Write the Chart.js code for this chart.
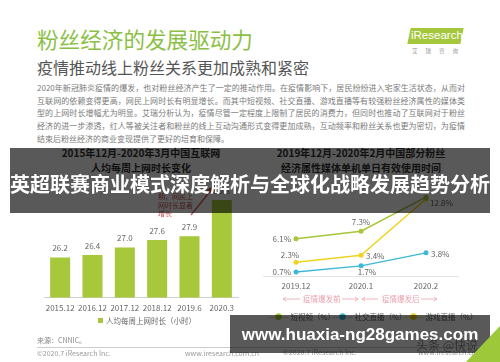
<!DOCTYPE html>
<html><head><meta charset="utf-8">
<script src="https://cdn.jsdelivr.net/npm/chart.js@4/dist/chart.umd.min.js"></script>
<style>
html,body{margin:0;padding:0;background:#fff;width:500px;height:362px;overflow:hidden;}
body{position:relative;font-family:'Noto Sans CJK SC','Noto Sans',sans-serif;}
.t{position:absolute;line-height:1;white-space:nowrap;}
canvas{position:absolute;}
.para{position:absolute;left:37px;width:428px;font-size:8px;line-height:1;color:#7a7a7a;text-align:justify;text-align-last:justify;white-space:nowrap;}
.ctitle{position:absolute;width:220px;text-align:center;font-size:10px;font-weight:bold;color:#333;line-height:1;}
</style></head>
<body>
<div class="t" style="left:37px;top:28px;font-size:21.6px;color:#8cbf45;">粉丝经济的发展驱动力</div>
<div class="t" style="left:37px;top:59px;font-size:16px;color:#555;">疫情推动线上粉丝关系更加成熟和紧密</div>
<div style="position:absolute;left:409px;top:28px;width:53px;height:16px;background:#a5c73c;transform:skewX(-12deg);"></div>
<div class="t" style="left:411px;top:30px;font-size:11.5px;color:#fff;font-family:'Liberation Sans',sans-serif;">iResearch</div>
<div class="t" style="left:412px;top:49px;font-size:5.5px;color:#999;letter-spacing:8px;">艾瑞咨询</div>

<div class="para" style="top:84px;">2020年新冠肺炎疫情的爆发，也对粉丝经济产生了一定的推动作用。在疫情影响下，居民纷纷进入宅家生活状态，从而对</div>
<div class="para" style="top:97px;">互联网的依赖变得更高，网民上网时长有明显增长。而其中短视频、社交直播、游戏直播等有较强粉丝经济属性的媒体类</div>
<div class="para" style="top:109px;">型的上网时长增幅尤为明显。艾瑞分析认为，疫情尽管一定程度上限制了居民的消费力，但同时也推动了互联网对于粉丝</div>
<div class="para" style="top:122px;">经济的进一步渗透，红人等被关注者和粉丝的线上互动沟通形式变得更加成熟，互动频率和粉丝关系也更为密切，为疫情</div>
<div class="para" style="top:135px;text-align-last:left;">结束后粉丝经济的商业变现提供了更好的培育和保障。</div>

<div class="ctitle" style="left:31px;top:148px;">2015年12月-2020年3月中国互联网</div>
<div class="ctitle" style="left:31px;top:163px;">人均每周上网时长变化</div>
<div class="ctitle" style="left:251px;top:148px;">2019年12月-2020年2月中国部分粉丝</div>
<div class="ctitle" style="left:251px;top:163px;">经济属性媒体单机单日有效使用时间</div>

<canvas id="bar" width="250" height="170" style="left:0;top:150px;"></canvas>
<canvas id="line" width="250" height="150" style="left:250px;top:150px;"></canvas>

<div class="t" style="left:158px;top:193px;font-size:7px;color:#c85a5a;">期，网民上</div>
<div class="t" style="left:158px;top:201.5px;font-size:7px;color:#c85a5a;">网时长显著</div>
<div class="t" style="left:158px;top:210px;font-size:7px;color:#c85a5a;">增长</div>
<svg style="position:absolute;left:0;top:0;" width="500" height="362">
 <line x1="191" y1="215" x2="212" y2="189" stroke="#c85a5a" stroke-width="1.3"/>
 <polygon points="214,186 206,190 211,194" fill="#c85a5a"/>
 <g stroke="#eaa3ad" stroke-width="0.8" fill="none">
  <line x1="283" y1="299" x2="300" y2="299"/><polyline points="286,297 283,299 286,301"/>
  <line x1="342" y1="299" x2="358" y2="299"/><polyline points="355,297 358,299 355,301"/>
  <line x1="362" y1="299" x2="378" y2="299"/><polyline points="365,297 362,299 365,301"/>
  <line x1="421" y1="299" x2="437" y2="299"/><polyline points="434,297 437,299 434,301"/>
 </g>
</svg>
<div class="t" style="left:303px;top:295px;font-size:7.5px;color:#eaa3ad;">疫情爆发前</div>
<div class="t" style="left:382px;top:295px;font-size:7.5px;color:#eaa3ad;">疫情爆发后</div>

<div style="position:absolute;left:98px;top:318px;width:5px;height:5px;background:#a6c83a;"></div>
<div class="t" style="left:106px;top:317px;font-size:7.5px;color:#666;">人均每周上网时长（小时）</div>

<div class="t" style="left:268px;top:313px;font-size:7.5px;color:#666;"><span style="color:#a6c83a">—●—</span> 短视频（%）</div>
<div class="t" style="left:332px;top:313px;font-size:7.5px;color:#666;"><span style="color:#3db8d8">—●—</span> 社交直播（%）</div>
<div class="t" style="left:403px;top:313px;font-size:7.5px;color:#666;"><span style="color:#f0d020">—●—</span> 游戏直播（%）</div>

<div class="t" style="left:37px;top:337px;font-size:7px;color:#888;">来源：CNNIC。</div>
<div style="position:absolute;left:37px;top:347px;width:428px;height:1px;background:#ccc;"></div>
<div class="t" style="left:37px;top:350px;font-size:7px;color:#999;">©2020.7 iResearch Inc.</div>
<div class="t" style="left:185px;top:350px;font-size:7px;color:#999;">www.iresearch.com.cn</div>
<div class="t" style="left:283px;top:349px;font-size:7px;color:#999;">©2020.7 iResearch Inc.</div>
<div class="t" style="left:418px;top:349px;font-size:7px;color:#999;">www.iresearch.com.cn</div>

<div style="position:absolute;left:10px;top:148px;width:480px;height:65px;background:rgba(0,0,0,0.65);"></div>
<div class="t" style="left:10px;top:174px;width:480px;text-align:center;font-size:20px;font-weight:bold;color:#fff;">英超联赛商业模式深度解析与全球化战略发展趋势分析</div>

<div style="position:absolute;left:230px;top:315px;width:260px;height:38px;background:rgba(0,0,0,0.65);"></div>
<div class="t" style="left:238px;top:326px;width:244px;text-align:center;font-size:17px;font-weight:bold;color:#fff;font-family:'Liberation Sans',sans-serif;">www.huaxia-ng28games.com</div>
<div class="t" style="left:416px;top:339px;font-size:12px;color:rgba(40,40,40,0.8);">头条 @快说</div>
<div style="position:absolute;left:466px;top:326px;width:34px;height:36px;background:#9cc83a;clip-path:polygon(100% 0,100% 100%,0 100%);"></div>

<script>
// ---- data ----
const barCategories = ['2015.12','2016.12','2017.12','2018.12','2019.6','2020.3'];
const weeklyHours = [26.2, 26.4, 27.0, 27.6, 27.9, 30.8];

const lineCategories = ['2019.12','2020.1','2020.2'];
const shortVideo = [6.1, 7.3, 12.8];
const socialLive = [0.7, 1.7, 3.8];
const gameLive = [2.3, 3.4, 12.5];

// ---- label plugin ----
const FONT = "'Noto Sans CJK SC','Noto Sans',sans-serif";
const valueLabels = {
  id: 'valueLabels',
  afterDatasetsDraw(chart, args, opts) {
    const ctx = chart.ctx;
    ctx.save();
    ctx.font = (opts.size || 8) + 'px ' + FONT;
    ctx.fillStyle = opts.color || '#666';
    ctx.textBaseline = 'middle';
    chart.data.datasets.forEach((ds, i) => {
      const meta = chart.getDatasetMeta(i);
      meta.data.forEach((el, j) => {
        const v = ds.data[j];
        const a = (opts.anchors && opts.anchors[i]) ? opts.anchors[i][j] : 'top';
        if (v == null || a === 'none') return;
        const txt = v.toFixed(1) + (opts.suffix || '');
        let x = el.x, y = el.y, align = 'center';
        if (a === 'top') { y -= 9; }
        else if (a === 'left') { x -= 5; align = 'right'; }
        else if (a === 'right') { x += 5; y += 1; align = 'left'; }
        else if (a === 'topleft') { x -= 6; y -= 7; }
        else if (a === 'rightbelow') { x += 4; y += 6; align = 'left'; }
        else if (a === 'belowright') { x += 6; y += 6; }
        ctx.textAlign = align;
        ctx.fillText(txt, x, y);
      });
    });
    ctx.restore();
  }
};

new Chart(document.getElementById('bar'), {
  type: 'bar',
  data: { labels: barCategories, datasets: [{ data: weeklyHours, backgroundColor: '#a6c83a', categoryPercentage: 1, barPercentage: 0.62 }] },
  options: {
    responsive: false, animation: false, devicePixelRatio: 1,
    layout: { padding: { left: 44, right: 12, top: 10, bottom: 1 } },
    plugins: { legend: { display: false }, tooltip: { enabled: false },
      valueLabels: { size: 8, color: '#666' } },
    scales: {
      x: { grid: { display: false, drawTicks: false }, border: { display: true, color: '#cfcfcf' },
           ticks: { color: '#666', padding: 6, maxRotation: 0, minRotation: 0, autoSkip: false, font: { size: 8, family: FONT } } },
      y: { display: false, min: 23, max: 34 }
    }
  },
  plugins: [valueLabels]
});

new Chart(document.getElementById('line'), {
  type: 'line',
  data: { labels: lineCategories, datasets: [
    { data: shortVideo, borderColor: '#a6c63b', backgroundColor: '#a6c63b' },
    { data: socialLive, borderColor: '#3db8d8', backgroundColor: '#3db8d8' },
    { data: gameLive, borderColor: '#f0d420', backgroundColor: '#f0d420' }
  ]},
  options: {
    responsive: false, animation: false, devicePixelRatio: 1,
    layout: { padding: { left: 13.5, right: 41.5, top: 10, bottom: 4 } },
    elements: { line: { borderWidth: 1.5, tension: 0 }, point: { radius: 2.5, borderWidth: 0 } },
    plugins: { legend: { display: false }, tooltip: { enabled: false },
      valueLabels: { size: 8, color: '#666', suffix: '%',
        anchors: [['left','top','rightbelow'], ['left','belowright','right'], ['topleft','right','none']] } },
    scales: {
      x: { offset: true, grid: { display: false, drawTicks: false }, border: { display: true, color: '#e3e3e3' },
           ticks: { color: '#666', padding: 5, maxRotation: 0, minRotation: 0, autoSkip: false, font: { size: 8, family: FONT } } },
      y: { display: false, min: 0, max: 18.8 }
    }
  },
  plugins: [valueLabels]
});
</script>
</body></html>
